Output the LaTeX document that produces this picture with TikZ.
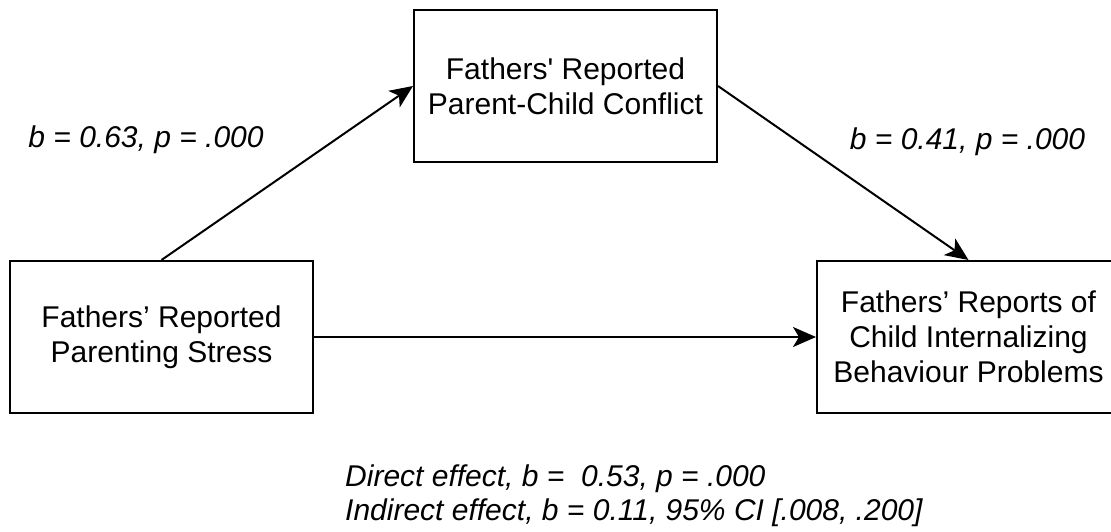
\documentclass[tikz,border=0pt]{standalone}
\usepackage{fontspec}
\setmainfont{Liberation Sans}
\usetikzlibrary{arrows.meta}
\begin{document}
\begin{tikzpicture}[x=1pt,y=1pt,
  box/.style={draw=black, line width=2pt, minimum width=303pt, minimum height=152pt,
    inner sep=0pt, align=center, font=\fontsize{30}{35}\selectfont},
  lab/.style={font=\fontsize{30}{35}\selectfont\itshape, inner sep=0pt},
  conn/.style={line width=2pt, -{Stealth[length=23pt,width=20pt,inset=6pt]}}]
\clip (0,0) rectangle (1111,531);
\useasboundingbox (0,0) rectangle (1111,531);
\node[box] (med) at (565.5,445) {Fathers\textquotesingle\ Reported\\Parent-Child Conflict};
\node[box] (x) at (161.5,194) {Fathers’ Reported\\Parenting Stress};
\node[box] (y) at (968.5,194) {Fathers’ Reports of\\Child Internalizing\\Behaviour Problems};
\draw[conn] (x.north) -- (med.west);
\draw[conn] (med.east) -- (y.north);
\draw[conn] (x.east) -- (y.west);
\node[lab] (a) at (146,391) {b = 0.63, p = .000};
\node[lab] (b) at (967.5,389) {b = 0.41, p = .000};
\node[lab, anchor=base west] (d) at (345,45) {Direct effect, b =\ \ 0.53, p = .000};
\node[lab, anchor=base west] (i) at (345,11) {Indirect effect, b = 0.11, 95\% CI [.008, .200]};
\end{tikzpicture}
\end{document}
